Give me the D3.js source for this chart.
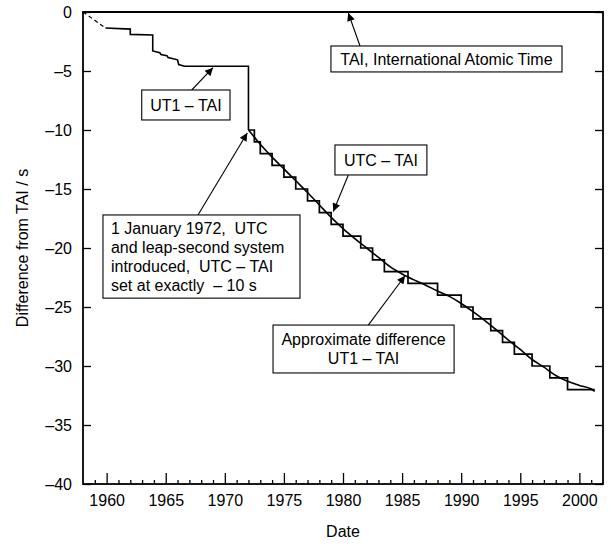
<!DOCTYPE html>
<html><head><meta charset="utf-8">
<script src="https://cdn.jsdelivr.net/npm/d3@7"></script>
<style>
body{margin:0;background:#fff}
svg{display:block;font-family:"Liberation Sans",Arial,sans-serif}
</style></head><body>
<svg id="chart" width="613" height="547"></svg>
<script>
// ---------- data ----------
const yearTicks = [1960, 1965, 1970, 1975, 1980, 1985, 1990, 1995, 2000];
const minorYears = [1959,1961,1962,1963,1964,1966,1967,1968,1969,1971,1972,1973,1974,1976,1977,1978,1979,1981,1982,1983,1984,1986,1987,1988,1989,1991,1992,1993,1994,1996,1997,1998,1999,2001];
const valueTicks = [0, -5, -10, -15, -20, -25, -30, -35, -40];

const taiYears = [1958, 2002];
const taiValues = [0, 0];

const ut1EarlyYears = [1958, 1959.9];
const ut1EarlyValues = [0, -1.35];

const ut1PreYears  = [1959.9, 1962.0, 1962.0, 1963.9, 1963.9, 1964.5, 1964.6, 1965.1, 1965.2, 1966.0, 1966.1, 1966.6, 1972.0, 1972.0];
const ut1PreValues = [-1.35, -1.45, -1.9, -1.95, -3.3, -3.45, -3.6, -3.7, -3.85, -4.05, -4.45, -4.6, -4.6, -10];

const leapYears = [1972.0, 1972.5, 1973.0, 1974.0, 1975.0, 1976.0, 1977.0, 1978.0, 1979.0, 1980.0, 1981.5, 1982.5, 1983.5, 1985.5, 1988.0, 1990.0, 1991.0, 1992.5, 1993.5, 1994.5, 1996.0, 1997.5, 1999.0, 2001.3];
const utcTaiValues = [-10, -11, -12, -13, -14, -15, -16, -17, -18, -19, -20, -21, -22, -23, -24, -25, -26, -27, -28, -29, -30, -31, -32, -32];

const ut1Years  = [1972, 1973, 1974, 1975, 1976, 1977, 1978, 1979, 1980, 1981, 1982, 1983, 1984, 1985, 1986, 1987, 1988, 1989, 1990, 1991, 1992, 1993, 1994, 1995, 1996, 1997, 1998, 1999, 2000, 2001, 2001.3];
const ut1Values = [-10.0, -11.2, -12.3, -13.3, -14.3, -15.3, -16.35, -17.4, -18.35, -19.2, -20.0, -20.8, -21.6, -22.2, -22.7, -23.15, -23.65, -24.1, -24.7, -25.4, -26.15, -26.95, -27.8, -28.6, -29.45, -30.1, -30.8, -31.3, -31.65, -31.95, -32.15];

// ---------- scales ----------
const svg = d3.select("#chart");
const x = d3.scaleLinear().domain([1958, 2002]).range([83, 603]);
const y = d3.scaleLinear().domain([-40, 0]).range([484, 12]);
const FONT = '"Liberation Sans", Arial, sans-serif';
const fmt = d => d === 0 ? "0" : "\u2013" + Math.abs(d);

// ---------- axes ----------
function styleAxis(g){
  g.attr("font-family", FONT).attr("font-size", 16);
  g.select(".domain").remove();
  g.selectAll(".tick line").attr("stroke", "#000").attr("stroke-width", 1.3);
  g.selectAll("text").attr("fill", "#000");
}
svg.append("g").attr("transform", `translate(0,${y(-40)})`)
  .call(d3.axisBottom(x).tickValues(yearTicks).tickSize(-11).tickPadding(11).tickFormat(d3.format("d")))
  .call(styleAxis);
svg.append("g").attr("transform", `translate(0,${y(-40)})`)
  .call(d3.axisBottom(x).tickValues(minorYears).tickSize(-4).tickFormat(""))
  .call(styleAxis);
svg.append("g").attr("transform", `translate(${x(1958)},0)`)
  .call(d3.axisLeft(y).tickValues(valueTicks).tickSize(-8).tickPadding(11).tickFormat(fmt))
  .call(styleAxis);
svg.append("g").attr("transform", `translate(${x(2002)},0)`)
  .call(d3.axisRight(y).tickValues(valueTicks).tickSize(-8).tickFormat(""))
  .call(styleAxis);

// frame
svg.append("rect")
  .attr("x", x(1958)).attr("y", y(0))
  .attr("width", x(2002) - x(1958)).attr("height", y(-40) - y(0))
  .attr("fill", "none").attr("stroke", "#000").attr("stroke-width", 1.8);

// axis titles
svg.append("text").attr("x", (x(1958) + x(2002)) / 2).attr("y", 537)
  .attr("text-anchor", "middle").attr("font-size", 16).attr("font-family", FONT).text("Date");
svg.append("text")
  .attr("transform", `translate(22,${(y(0) + y(-40)) / 2}) rotate(-90)`)
  .attr("text-anchor", "middle").attr("dy", "0.35em")
  .attr("font-size", 16).attr("font-family", FONT).text("Difference from TAI / s");

// ---------- series ----------
const zip = (xs, ys) => xs.map((v, i) => [v, ys[i]]);
const line = d3.line().x(d => x(d[0])).y(d => y(d[1]));

svg.append("path").datum(zip(taiYears, taiValues)).attr("d", line)
  .attr("fill", "none").attr("stroke", "#000").attr("stroke-width", 1.8);

svg.append("path").datum(zip(ut1EarlyYears, ut1EarlyValues)).attr("d", line)
  .attr("fill", "none").attr("stroke", "#000").attr("stroke-width", 1.2).attr("stroke-dasharray", "4,3");

svg.append("path").datum(zip(ut1PreYears, ut1PreValues)).attr("d", line)
  .attr("fill", "none").attr("stroke", "#000").attr("stroke-width", 1.6);

svg.append("path").datum(zip(leapYears, utcTaiValues))
  .attr("d", d3.line().x(d => x(d[0])).y(d => y(d[1])).curve(d3.curveStepAfter))
  .attr("fill", "none").attr("stroke", "#000").attr("stroke-width", 1.7);

svg.append("path").datum(zip(ut1Years, ut1Values))
  .attr("d", d3.line().x(d => x(d[0])).y(d => y(d[1])).curve(d3.curveMonotoneX))
  .attr("fill", "none").attr("stroke", "#000").attr("stroke-width", 1.6);

// ---------- annotations ----------
svg.append("defs").append("marker")
  .attr("id", "arrow").attr("viewBox", "0 0 10 10").attr("refX", 10).attr("refY", 5)
  .attr("markerWidth", 10).attr("markerHeight", 8).attr("markerUnits", "userSpaceOnUse")
  .attr("orient", "auto")
  .append("path").attr("d", "M0,0 L10,5 L0,10 z").attr("fill", "#000");

const annotations = [
  { box: [1978.98, -2.88, 1998.53, -5.08], lines: ["TAI, International Atomic Time"], align: "middle",
    from: [1981.44, -2.88], to: [1980.45, -0.08] },
  { box: [1962.97, -6.61, 1970.44, -9.15], lines: ["UT1 \u2013 TAI"], align: "middle",
    from: [1967.2, -6.61], to: [1969.0, -4.72] },
  { box: [1979.32, -11.27, 1987.1, -13.81], lines: ["UTC \u2013 TAI"], align: "middle",
    from: [1980.45, -13.81], to: [1979.18, -16.9] },
  { box: [1959.69, -17.2, 1976.36, -24.25], lines: ["1 January 1972,  UTC", "and leap-second system", "introduced,  UTC \u2013 TAI", "set at exactly  \u2013 10 s"], align: "start",
    from: [1967.73, -17.2], to: [1971.9, -10.25] },
  { box: [1974.08, -26.53, 1989.4, -30.59], lines: ["Approximate difference", "UT1 \u2013 TAI"], align: "middle",
    from: [1982.14, -26.53], to: [1985.25, -22.35] }
];

annotations.forEach(a => {
  svg.append("line")
    .attr("x1", x(a.from[0])).attr("y1", y(a.from[1]))
    .attr("x2", x(a.to[0])).attr("y2", y(a.to[1]))
    .attr("stroke", "#000").attr("stroke-width", 1.1).attr("marker-end", "url(#arrow)");
  const x0 = x(a.box[0]), y0 = y(a.box[1]), x1 = x(a.box[2]), y1 = y(a.box[3]);
  svg.append("rect").attr("x", x0).attr("y", y0).attr("width", x1 - x0).attr("height", y1 - y0)
    .attr("fill", "#fff").attr("stroke", "#000").attr("stroke-width", 1.1);
  const lh = 18.8;
  const n = a.lines.length;
  const cy = (y0 + y1) / 2;
  const t = svg.append("text").attr("font-size", 16).attr("font-family", FONT)
    .attr("text-anchor", a.align).style("white-space", "pre").attr("xml:space", "preserve");
  a.lines.forEach((s, i) => {
    t.append("tspan")
      .attr("x", a.align === "middle" ? (x0 + x1) / 2 : x0 + 8)
      .attr("y", cy + (i - (n - 1) / 2) * lh)
      .attr("dy", "0.36em")
      .text(s);
  });
});
</script>
</body></html>
